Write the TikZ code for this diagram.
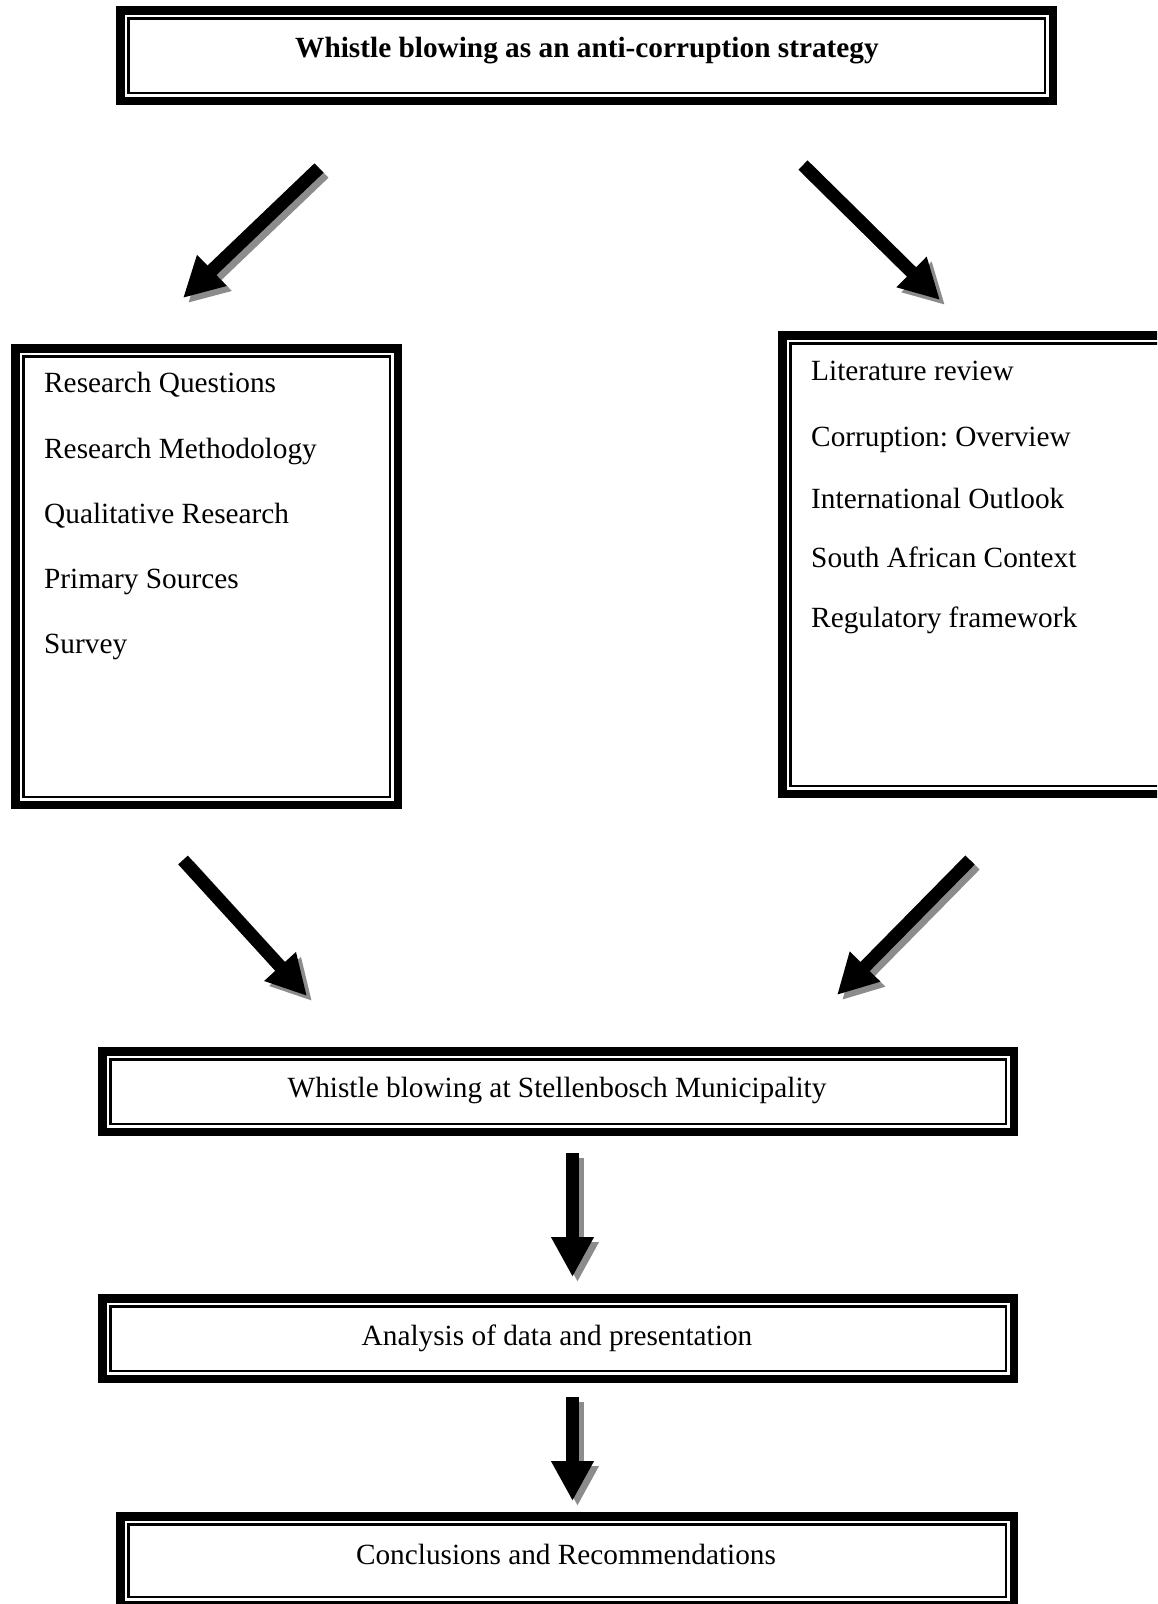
\documentclass[tikz,border=0pt]{standalone}
\usepackage{fontspec}
\setmainfont{Liberation Serif}
\usetikzlibrary{arrows.meta}
\frenchspacing
\tikzset{
  dbox/.style={draw, line width=8.5pt, inner sep=0pt, outer sep=0pt},
  thinb/.style={draw, line width=2.5pt},
  txt/.style={inner sep=0pt, font=\fontsize{29.3}{34}\selectfont},
  fat/.style={line width=13pt, -{Triangle[width=40pt,length=40pt]}},
  fatshadow/.style={fat, draw=black!45}
}
\begin{document}
\begin{tikzpicture}[x=1pt,y=-1pt]
\useasboundingbox (0,0) rectangle (1157,1604);
\clip (0,0) rectangle (1157,1604);
% boxes
\node[dbox, minimum width=932.5pt, minimum height=90.5pt] (top) at (586.5,55.5) {};
\node[dbox, minimum width=382.5pt, minimum height=456.5pt] (left) at (206.5,576.5) {};
\node[dbox, minimum width=388.5pt, minimum height=458.5pt] (right) at (976.5,564.5) {};
\node[dbox, minimum width=911.5pt, minimum height=80.5pt] (mid) at (558,1091.5) {};
\node[dbox, minimum width=911.5pt, minimum height=80.5pt] (anal) at (558,1338.5) {};
\node[dbox, minimum width=893.5pt, minimum height=88.5pt] (concl) at (567,1560.5) {};
\foreach \n in {top,left,right,mid,anal,concl}
  \draw[thinb] ([shift={(8pt,-8pt)}]\n.north west) rectangle ([shift={(-8pt,8pt)}]\n.south east);
% texts
\node[txt, font=\fontsize{29.3}{34}\selectfont\bfseries] (ttop) at (587,51) {Whistle blowing as an anti-corruption strategy};
\node[txt, anchor=west] (l1) at (44,385) {Research Questions};
\node[txt, anchor=west] (l2) at (44,451) {Research Methodology};
\node[txt, anchor=west] (l3) at (44,516) {Qualitative Research};
\node[txt, anchor=west] (l4) at (44,582) {Primary Sources};
\node[txt, anchor=west] (r1) at (811,371) {Literature review};
\node[txt, anchor=west] (l5) at (44,647) {Survey};
\node[txt, anchor=west] (r2) at (811,440) {Corruption: Overview};
\node[txt, anchor=west] (r3) at (811,498) {International Outlook};
\node[txt, anchor=west] (r4) at (811,557) {South African Context};
\node[txt, anchor=west] (r5) at (811,620) {Regulatory framework};
\node[txt] (tmid) at (557,1090) {Whistle blowing at Stellenbosch Municipality};
\node[txt] (tanal) at (557,1338) {Analysis of data and presentation};
\node[txt] (tconcl) at (566,1554) {Conclusions and Recommendations};
% arrow coordinates
\coordinate (a1s) at (319,168); \coordinate (a1e) at (183,298);
\coordinate (a2s) at (803,165); \coordinate (a2e) at (940,300);
\coordinate (a3s) at (183,860); \coordinate (a3e) at (307,996);
\coordinate (a4s) at (970,860); \coordinate (a4e) at (837,995);
\coordinate (a5s) at (572.5,1153); \coordinate (a5e) at (572.5,1277);
\coordinate (a6s) at (572.5,1397); \coordinate (a6e) at (572.5,1501);
\foreach \s/\e in {a1s/a1e,a2s/a2e,a3s/a3e,a4s/a4e,a5s/a5e,a6s/a6e}
  \draw[fatshadow] ([shift={(5pt,-5pt)}]\s) -- ([shift={(5pt,-5pt)}]\e);
\foreach \s/\e in {a1s/a1e,a2s/a2e,a3s/a3e,a4s/a4e,a5s/a5e,a6s/a6e}
  \draw[fat] (\s) -- (\e);
\end{tikzpicture}
\end{document}
